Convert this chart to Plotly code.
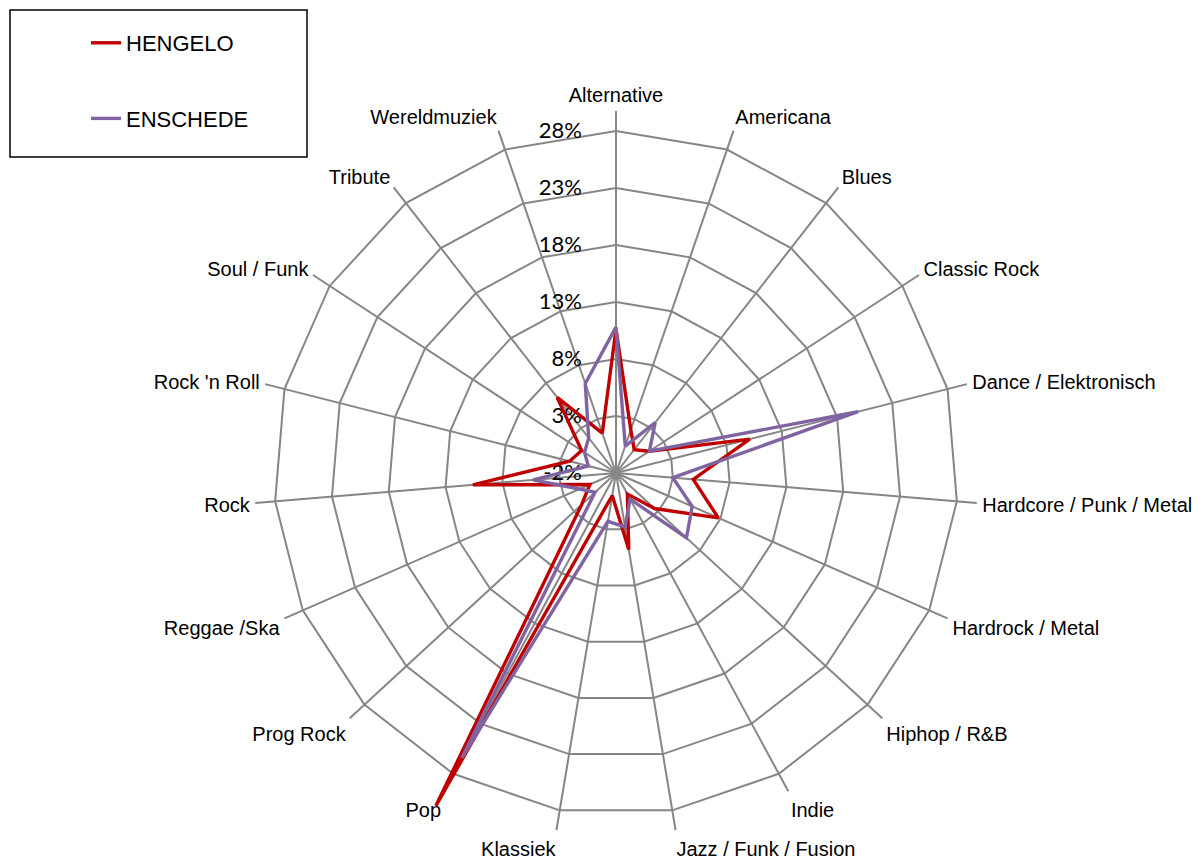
import plotly.graph_objects as go

categories = ["Alternative", "Americana", "Blues", "Classic Rock", "Dance / Elektronisch",
              "Hardcore / Punk / Metal", "Hardrock / Metal", "Hiphop / R&B", "Indie",
              "Jazz / Funk / Fusion", "Klassiek", "Pop", "Prog Rock", "Reggae /Ska", "Rock",
              "Rock 'n Roll", "Soul / Funk", "Tribute", "Wereldmuziek"]

hengelo = [10.6, 2.0, 0.6, 1.5, 10.1, 4.8, 7.8, 2.6, 0.1, 4.8, 0.0, 31.2, 2.1, 0.5, 10.6,
           2.2, 1.6, 6.4, 1.7]
enschede = [10.8, 0.5, 3.6, 1.5, 19.9, 3.0, 5.3, 6.4, 0.6, 2.8, 2.3, 26.4, 0.5, 1.5, 5.3,
            0.5, 1.3, 1.9, 6.3]

tick_vals = [-2, 3, 8, 13, 18, 23, 28]
tick_text = ["-2%", "3%", "8%", "13%", "18%", "23%", "28%"]

OFF = 8                     # default page body margin
W, H = 1203 - OFF, 858 - OFF
CX, CY = 616 - OFF, 473 - OFF
PX_PER = 11.4               # pixels per percentage point
R_MIN = -2
GRID_MAX = 29.75            # where the spokes end
DATA_MAX = 31.4


def domain(rmax):
    rad = (rmax - R_MIN) * PX_PER
    x = [(CX - rad) / W, (CX + rad) / W]
    y = [(H - (CY + rad)) / H, (H - (CY - rad)) / H]
    return dict(x=x, y=y)


def px(x):
    return (x - OFF) / W


def py(y):
    return 1 - (y - OFF) / H


closed_cats = categories + [categories[0]]

fig = go.Figure()
# anchor trace for the grid subplot (invisible)
fig.add_trace(go.Scatterpolar(r=[R_MIN], theta=[categories[0]], mode="markers",
                              marker=dict(opacity=0), showlegend=False,
                              hoverinfo="skip", subplot="polar"))

fig.add_trace(go.Scatterpolar(r=hengelo + [hengelo[0]], theta=closed_cats, mode="lines",
                              name="HENGELO", line=dict(color="#C00000", width=3.4),
                              legendgroup="h", subplot="polar2"))
fig.add_trace(go.Scatterpolar(r=enschede + [enschede[0]], theta=closed_cats, mode="lines",
                              name="ENSCHEDE", line=dict(color="#8064A2", width=3.4),
                              legendgroup="e", subplot="polar2"))

grid_col = "#868686"
narrow = "Liberation Sans Narrow, Arial Narrow, Liberation Sans, Arial, sans-serif"

fig.update_layout(
    width=W, height=H,
    margin=dict(l=0, r=0, t=0, b=0),
    paper_bgcolor="white",
    plot_bgcolor="white",
    polar=dict(
        domain=domain(GRID_MAX),
        bgcolor="rgba(0,0,0,0)",
        gridshape="linear",
        radialaxis=dict(range=[R_MIN, GRID_MAX], tickvals=tick_vals, ticktext=tick_text,
                        angle=90, tickangle=90, side="counterclockwise",
                        showline=False, showgrid=True, gridcolor=grid_col, gridwidth=1.5,
                        ticks="outside", ticklen=26, tickcolor="rgba(0,0,0,0)",
                        tickfont=dict(family="Lato, Open Sans, sans-serif",
                                      size=22, color="black")),
        angularaxis=dict(categoryorder="array", categoryarray=categories,
                         direction="clockwise", rotation=90, showline=False,
                         showgrid=True, gridcolor=grid_col, gridwidth=1.5,
                         ticks="outside", ticklen=1, tickcolor="rgba(0,0,0,0)",
                         tickfont=dict(family=narrow, size=20, color="black")),
    ),
    polar2=dict(
        domain=domain(DATA_MAX),
        bgcolor="rgba(0,0,0,0)",
        gridshape="linear",
        radialaxis=dict(range=[R_MIN, DATA_MAX], visible=False, showgrid=False),
        angularaxis=dict(categoryorder="array", categoryarray=categories,
                         direction="clockwise", rotation=90, showline=False,
                         showgrid=False, showticklabels=False, ticks=""),
    ),
    legend=dict(x=px(86), y=py(22), xanchor="left", yanchor="top",
                bgcolor="rgba(0,0,0,0)", borderwidth=0,
                font=dict(family=narrow, size=22, color="black"),
                traceorder="grouped", tracegroupgap=44),
    shapes=[dict(type="rect", xref="paper", yref="paper",
                 x0=px(10), x1=px(307), y0=py(157), y1=py(10),
                 line=dict(color="black", width=1.5), fillcolor="rgba(0,0,0,0)")],
)

fig.write_html("out.html")
